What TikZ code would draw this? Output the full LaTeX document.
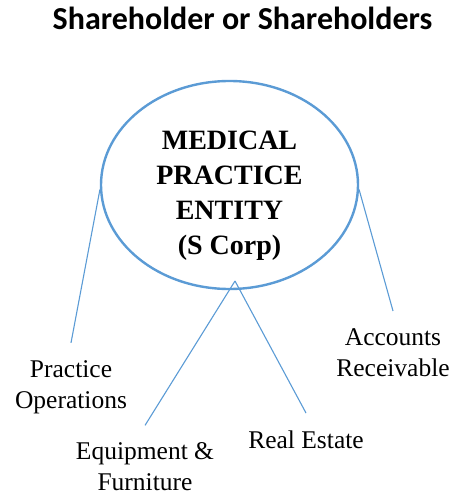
\documentclass[tikz,border=0pt]{standalone}
\usepackage{fontspec}
\setmainfont{Liberation Serif}
\newfontfamily\titlefont{Carlito}
\usetikzlibrary{shapes.geometric}
\definecolor{corpblue}{HTML}{5B9BD5}

\begin{document}
\begin{tikzpicture}[x=1pt,y=-1pt]

\tikzset{entity/.style = {shape=ellipse,draw=corpblue,line width=2.4pt,minimum width=257pt,minimum height=208pt}}
\tikzset{entitytext/.style = {align=center,font=\bfseries\fontsize{28}{35}\selectfont,inner sep=0pt}}
\tikzset{asset/.style = {align=center,font=\fontsize{25.5}{31}\selectfont,inner sep=0pt,outer ysep=17.5pt}}
\tikzset{edge/.style = {draw=corpblue,line width=1.1pt}}

\useasboundingbox (0,0) rectangle (454,497);
% title
\node[font=\titlefont\bfseries\fontsize{32}{38}\selectfont, anchor=base] (title) at (242.5,30) {Shareholder or Shareholders};
% vertices
\node[entity] (ent) at (229.5,185) {};
\node[entitytext] (entname) at (229.5,196) {MEDICAL\\PRACTICE\\ENTITY\\(S Corp)};
\node[asset] (ops) at (71,387) {Practice\\Operations};
\node[asset] (equip) at (145,467) {Equipment \&\\Furniture};
\node[asset] (estate) at (306,439.5) {Real Estate};
\node[asset] (recv) at (393,352.5) {Accounts\\Receivable};
\coordinate (fork) at (235,281);
%edges
\draw[edge] (ent.182) -- (ops.north);
\draw[edge] (fork) -- (equip.north);
\draw[edge] (fork) -- (estate.north);
\draw[edge] (ent.358) -- (recv.north);
\end{tikzpicture}
\end{document}
